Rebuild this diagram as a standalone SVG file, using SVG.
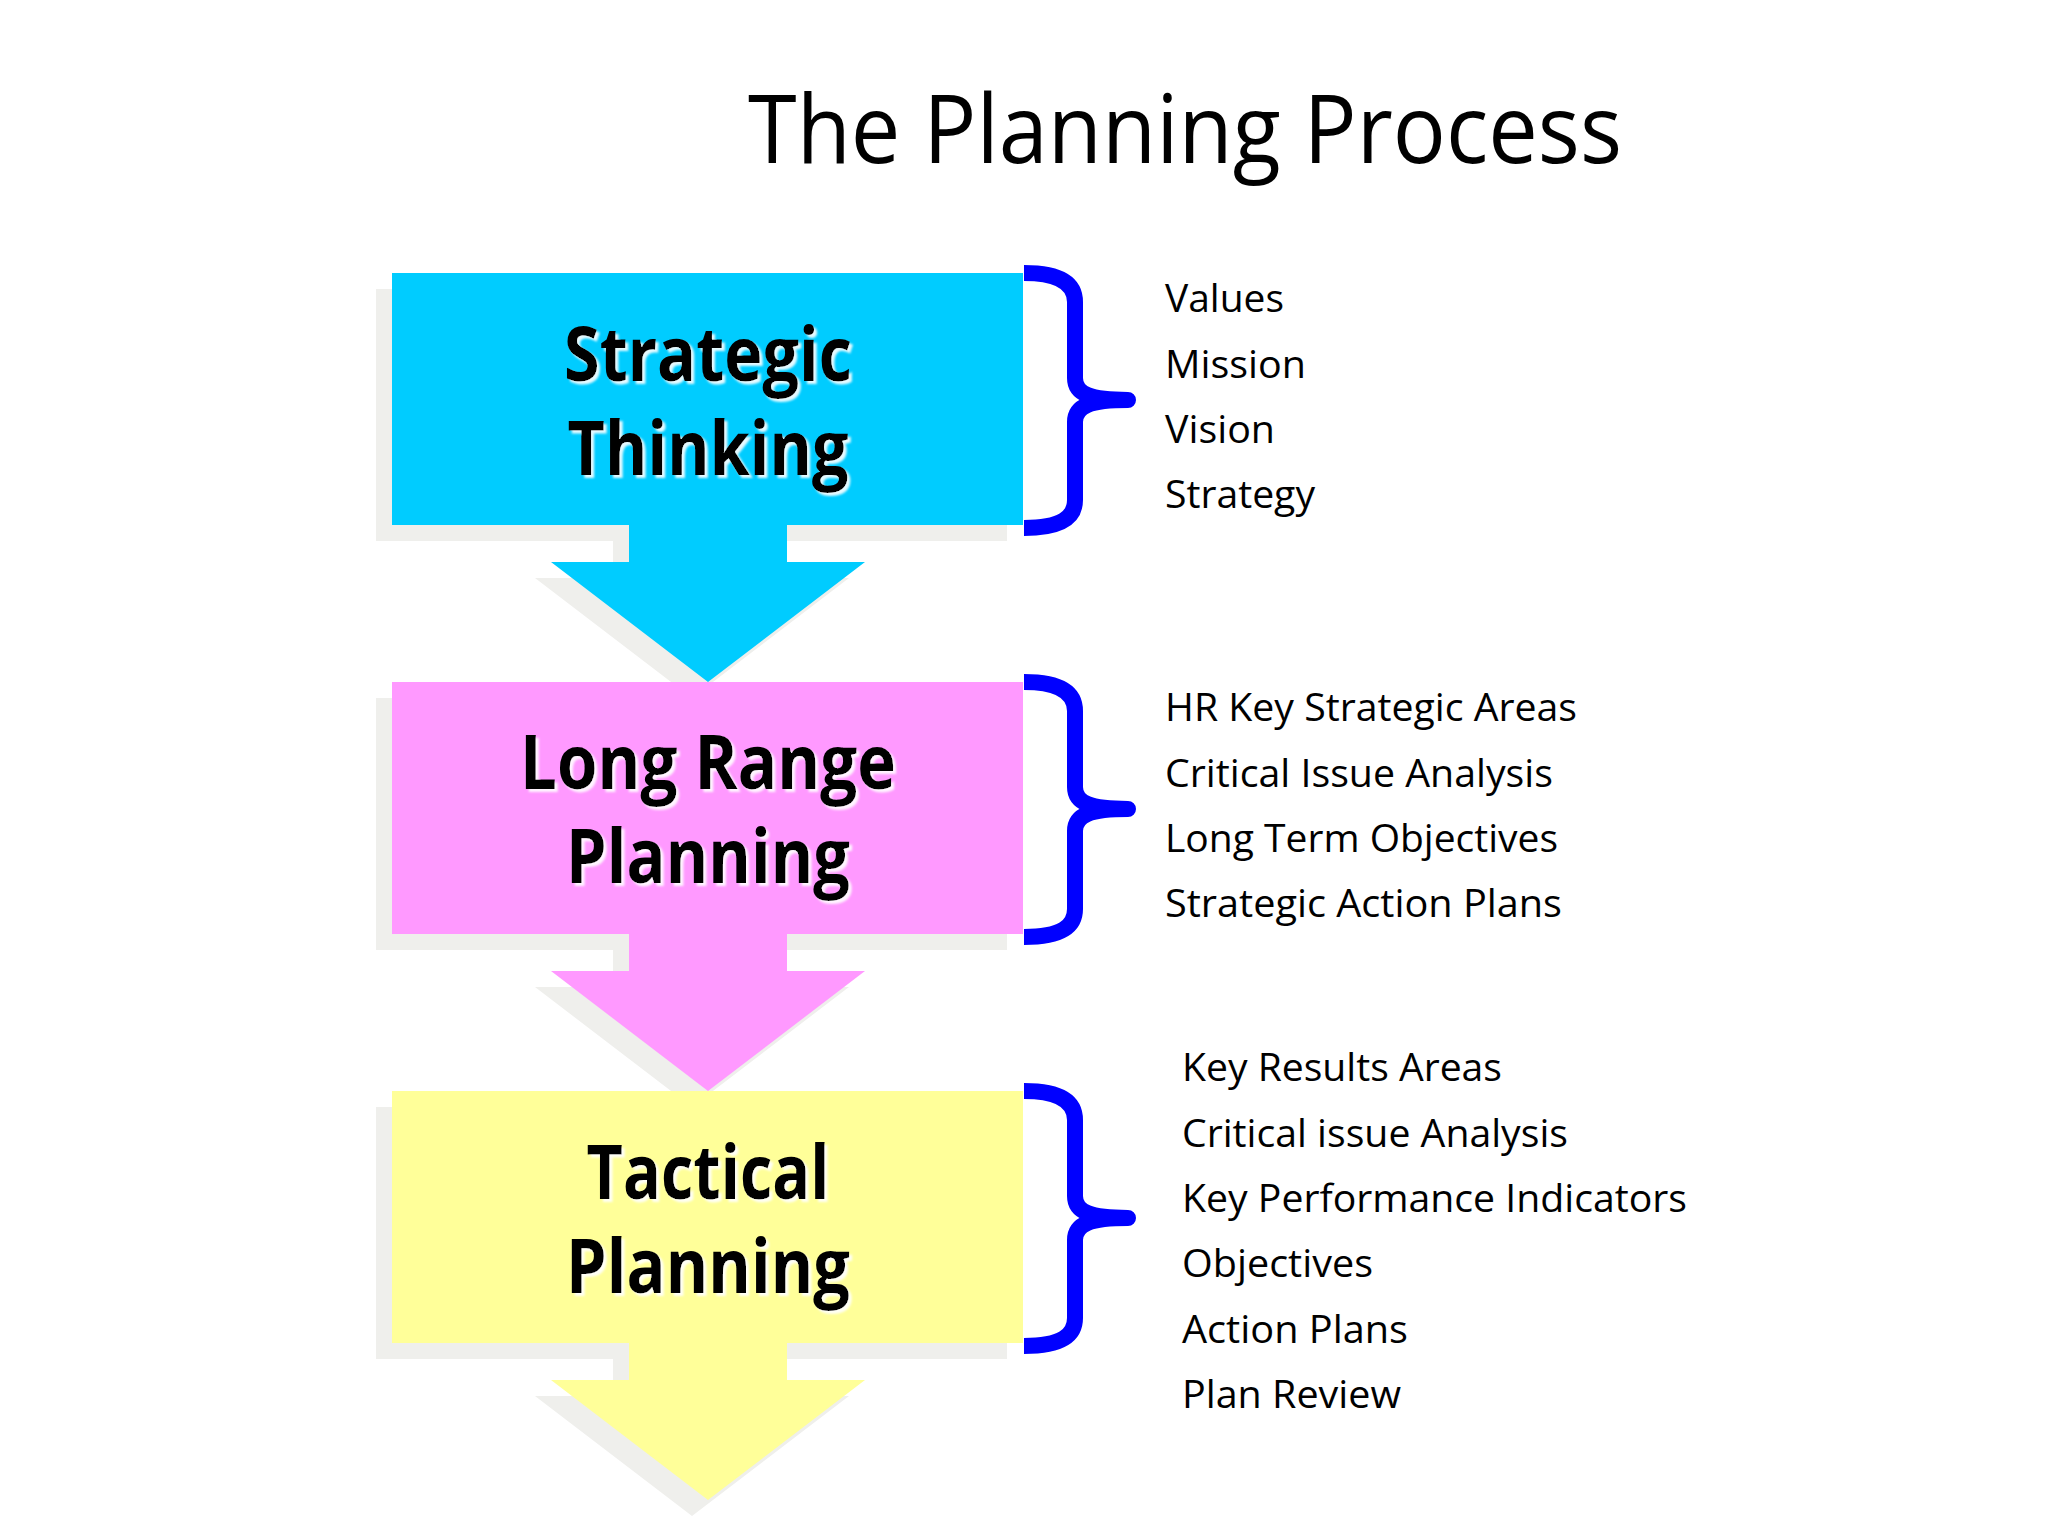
<svg xmlns="http://www.w3.org/2000/svg" width="2048" height="1536" viewBox="0 0 2048 1536">
  <defs>
    <path id="stepShape" d="M392,273 H1023 V525 H787 V562 H865 L708,682 L551,562 H629 V525 H392 Z"/>
    <path id="braceShape" d="M1024,273 C1062,273 1075,285 1075,302 L1075,378 C1075,394 1090,400 1128,400 C1090,400 1075,406 1075,422 L1075,500 C1075,517 1062,528 1024,528"/>
    <filter id="textGlow" x="-10%" y="-20%" width="120%" height="140%">
      <feDropShadow dx="3" dy="3" stdDeviation="0.8" flood-color="#ffffff" flood-opacity="0.9"/>
    </filter>
  </defs>
  <style>
    .title { font-family: "Open Sans", "Liberation Sans", sans-serif; font-size: 95px; fill: #000; }
    .label { font-family: "Open Sans", "Liberation Sans", sans-serif; font-weight: bold; font-size: 76px; fill: #000; filter: url(#textGlow); }
    .item { font-family: "Open Sans", "Liberation Sans", sans-serif; font-size: 39px; fill: #000; }
    .shadow { fill: #efefec; }
    .brace { fill: none; stroke: #0000ff; stroke-width: 16; stroke-linejoin: round; stroke-linecap: butt; }
  </style>
  <rect width="2048" height="1536" fill="#ffffff"/>

  <text class="title" x="748" y="163" textLength="874" lengthAdjust="spacingAndGlyphs">The Planning Process</text>

  <g id="shadows">
    <use href="#stepShape" class="shadow" transform="translate(-16,16)"/>
    <use href="#stepShape" class="shadow" transform="translate(-16,425)"/>
    <use href="#stepShape" class="shadow" transform="translate(-16,834)"/>
  </g>

  <g id="node-strategic">
    <use href="#stepShape" fill="#00ccff"/>
    <text class="label" x="708" y="381" text-anchor="middle" textLength="288" lengthAdjust="spacingAndGlyphs">Strategic</text>
    <text class="label" x="708" y="475" text-anchor="middle" textLength="281" lengthAdjust="spacingAndGlyphs">Thinking</text>
  </g>

  <g id="node-longrange">
    <use href="#stepShape" fill="#ff99ff" transform="translate(0,409)"/>
    <text class="label" x="708" y="789" text-anchor="middle" textLength="376" lengthAdjust="spacingAndGlyphs">Long Range</text>
    <text class="label" x="708" y="883" text-anchor="middle" textLength="284" lengthAdjust="spacingAndGlyphs">Planning</text>
  </g>

  <g id="node-tactical">
    <use href="#stepShape" fill="#ffff99" transform="translate(0,818)"/>
    <text class="label" x="708" y="1199" text-anchor="middle" textLength="243" lengthAdjust="spacingAndGlyphs">Tactical</text>
    <text class="label" x="708" y="1293" text-anchor="middle" textLength="284" lengthAdjust="spacingAndGlyphs">Planning</text>
  </g>

  <g id="connectors">
    <use href="#braceShape" class="brace"/>
    <use href="#braceShape" class="brace" transform="translate(0,409)"/>
    <use href="#braceShape" class="brace" transform="translate(0,818)"/>
  </g>

  <g id="list-strategic">
    <text class="item" x="1165" y="312" textLength="119" lengthAdjust="spacingAndGlyphs">Values</text>
    <text class="item" x="1165" y="378" textLength="141" lengthAdjust="spacingAndGlyphs">Mission</text>
    <text class="item" x="1165" y="443" textLength="110" lengthAdjust="spacingAndGlyphs">Vision</text>
    <text class="item" x="1165" y="508" textLength="150" lengthAdjust="spacingAndGlyphs">Strategy</text>
  </g>

  <g id="list-longrange">
    <text class="item" x="1165" y="721" textLength="412" lengthAdjust="spacingAndGlyphs">HR Key Strategic Areas</text>
    <text class="item" x="1165" y="787" textLength="388" lengthAdjust="spacingAndGlyphs">Critical Issue Analysis</text>
    <text class="item" x="1165" y="852" textLength="393" lengthAdjust="spacingAndGlyphs">Long Term Objectives</text>
    <text class="item" x="1165" y="917" textLength="397" lengthAdjust="spacingAndGlyphs">Strategic Action Plans</text>
  </g>

  <g id="list-tactical">
    <text class="item" x="1182" y="1081" textLength="320" lengthAdjust="spacingAndGlyphs">Key Results Areas</text>
    <text class="item" x="1182" y="1147" textLength="386" lengthAdjust="spacingAndGlyphs">Critical issue Analysis</text>
    <text class="item" x="1182" y="1212" textLength="505" lengthAdjust="spacingAndGlyphs">Key Performance Indicators</text>
    <text class="item" x="1182" y="1277" textLength="191" lengthAdjust="spacingAndGlyphs">Objectives</text>
    <text class="item" x="1182" y="1343" textLength="226" lengthAdjust="spacingAndGlyphs">Action Plans</text>
    <text class="item" x="1182" y="1408" textLength="219" lengthAdjust="spacingAndGlyphs">Plan Review</text>
  </g>
</svg>
